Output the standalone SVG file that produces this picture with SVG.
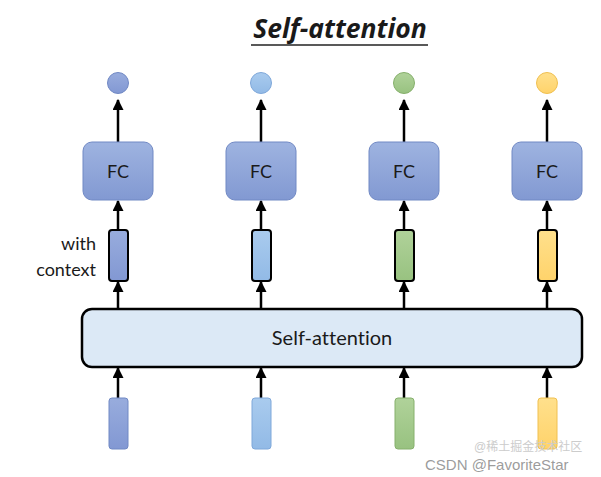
<svg xmlns="http://www.w3.org/2000/svg" width="601" height="477" viewBox="0 0 601 477">
<defs>
  <marker id="ah" viewBox="0 0 10 10" refX="9" refY="5" markerWidth="4.4" markerHeight="4.4" orient="auto" markerUnits="strokeWidth">
    <path d="M0,0 L10,5 L0,10 z" fill="#000"/>
  </marker>
  <linearGradient id="gFC" x1="0" y1="0" x2="0" y2="1">
    <stop offset="0" stop-color="#9EB3E0"/>
    <stop offset="1" stop-color="#8299D2"/>
  </linearGradient>
  <linearGradient id="gB1" x1="0" y1="0" x2="0" y2="1"><stop offset="0" stop-color="#98ACDD"/><stop offset="1" stop-color="#8298D3"/></linearGradient>
  <linearGradient id="gB2" x1="0" y1="0" x2="0" y2="1"><stop offset="0" stop-color="#A9CBEE"/><stop offset="1" stop-color="#92BAE6"/></linearGradient>
  <linearGradient id="gG" x1="0" y1="0" x2="0" y2="1"><stop offset="0" stop-color="#B0D29A"/><stop offset="1" stop-color="#98C280"/></linearGradient>
  <linearGradient id="gY" x1="0" y1="0" x2="0" y2="1"><stop offset="0" stop-color="#FFE08C"/><stop offset="1" stop-color="#FFD36B"/></linearGradient>
</defs>
<style>
  .fc{fill:url(#gFC);stroke:#7189C4;stroke-width:1}
  .lbl{font-family:Lato,"Open Sans","Liberation Sans",sans-serif;fill:#1a1a1a;font-variant-ligatures:none}
  .arr{stroke:#000;stroke-width:2.5;fill:none;marker-end:url(#ah)}
  .ctx{stroke:#000;stroke-width:2}
  .inp{stroke-width:1}
  .out{stroke-width:1}
</style>
<rect width="601" height="477" fill="#fff"/>
<g id="title">
  <text x="340" y="38" text-anchor="middle" style="font-family:'Open Sans','Liberation Sans',sans-serif;font-size:26.5px;font-weight:bold;font-style:italic;fill:#1a1a1a">Self-attention</text>
  <line x1="251" y1="45" x2="428" y2="45" stroke="#222" stroke-width="1.5"/>
</g>
<g id="connectors">
  <line class="arr" x1="118" y1="142" x2="118" y2="100"/>
  <line class="arr" x1="261" y1="142" x2="261" y2="100"/>
  <line class="arr" x1="404" y1="142" x2="404" y2="100"/>
  <line class="arr" x1="547" y1="142" x2="547" y2="100"/>
  <line class="arr" x1="118" y1="229" x2="118" y2="201"/>
  <line class="arr" x1="261" y1="229" x2="261" y2="201"/>
  <line class="arr" x1="404" y1="229" x2="404" y2="201"/>
  <line class="arr" x1="547" y1="229" x2="547" y2="201"/>
  <line class="arr" x1="118" y1="309" x2="118" y2="282"/>
  <line class="arr" x1="261" y1="309" x2="261" y2="282"/>
  <line class="arr" x1="404" y1="309" x2="404" y2="282"/>
  <line class="arr" x1="547" y1="309" x2="547" y2="282"/>
  <line class="arr" x1="118" y1="398" x2="118" y2="368"/>
  <line class="arr" x1="261" y1="398" x2="261" y2="368"/>
  <line class="arr" x1="404" y1="398" x2="404" y2="368"/>
  <line class="arr" x1="547" y1="398" x2="547" y2="368"/>
</g>
<g id="out1"><circle class="out" cx="118" cy="83" r="10.5" fill="url(#gB1)" stroke="#7189C4"/></g>
<g id="out2"><circle class="out" cx="261" cy="83" r="10.5" fill="url(#gB2)" stroke="#7FA8DA"/></g>
<g id="out3"><circle class="out" cx="404" cy="83" r="10.5" fill="url(#gG)" stroke="#86B06C"/></g>
<g id="out4"><circle class="out" cx="547" cy="83" r="10.5" fill="url(#gY)" stroke="#F0C050"/></g>
<g id="fc1"><rect class="fc" x="83" y="142" width="70" height="58" rx="9"/><text x="118" y="178" text-anchor="middle" class="lbl" font-size="18">FC</text></g>
<g id="fc2"><rect class="fc" x="226" y="142" width="70" height="58" rx="9"/><text x="261" y="178" text-anchor="middle" class="lbl" font-size="18">FC</text></g>
<g id="fc3"><rect class="fc" x="369" y="142" width="70" height="58" rx="9"/><text x="404" y="178" text-anchor="middle" class="lbl" font-size="18">FC</text></g>
<g id="fc4"><rect class="fc" x="512" y="142" width="70" height="58" rx="9"/><text x="547" y="178" text-anchor="middle" class="lbl" font-size="18">FC</text></g>
<g id="context-label">
  <text x="96" y="250" text-anchor="end" class="lbl" font-size="18">with</text>
  <text x="96" y="276" text-anchor="end" class="lbl" font-size="18">context</text>
</g>
<g id="ctx1"><rect class="ctx" x="109" y="230" width="19" height="51" rx="3" fill="url(#gB1)"/></g>
<g id="ctx2"><rect class="ctx" x="252" y="230" width="19" height="51" rx="3" fill="url(#gB2)"/></g>
<g id="ctx3"><rect class="ctx" x="395" y="230" width="19" height="51" rx="3" fill="url(#gG)"/></g>
<g id="ctx4"><rect class="ctx" x="538" y="230" width="19" height="51" rx="3" fill="url(#gY)"/></g>
<g id="self-attention">
  <rect x="82" y="309" width="500" height="58" rx="10" fill="#DCE9F6" stroke="#000" stroke-width="2.5"/>
  <text x="332" y="345" text-anchor="middle" class="lbl" font-size="20">Self-attention</text>
</g>
<g id="in1"><rect class="inp" x="109" y="398" width="19" height="51" rx="3" fill="url(#gB1)" stroke="#7189C4"/></g>
<g id="in2"><rect class="inp" x="252" y="398" width="19" height="51" rx="3" fill="url(#gB2)" stroke="#7FA8DA"/></g>
<g id="in3"><rect class="inp" x="395" y="398" width="19" height="51" rx="3" fill="url(#gG)" stroke="#86B06C"/></g>
<g id="in4"><rect class="inp" x="538" y="398" width="19" height="51" rx="3" fill="url(#gY)" stroke="#F0C050"/></g>
<g id="watermark" font-family="'Liberation Sans','Noto Sans CJK SC',sans-serif">
  <text x="474" y="451" font-size="12" fill="#cccccc">@稀土掘金技术社区</text>
  <text x="425" y="470" font-size="15" fill="#8a8a8a" fill-opacity="0.85">CSDN @FavoriteStar</text>
</g>
</svg>
